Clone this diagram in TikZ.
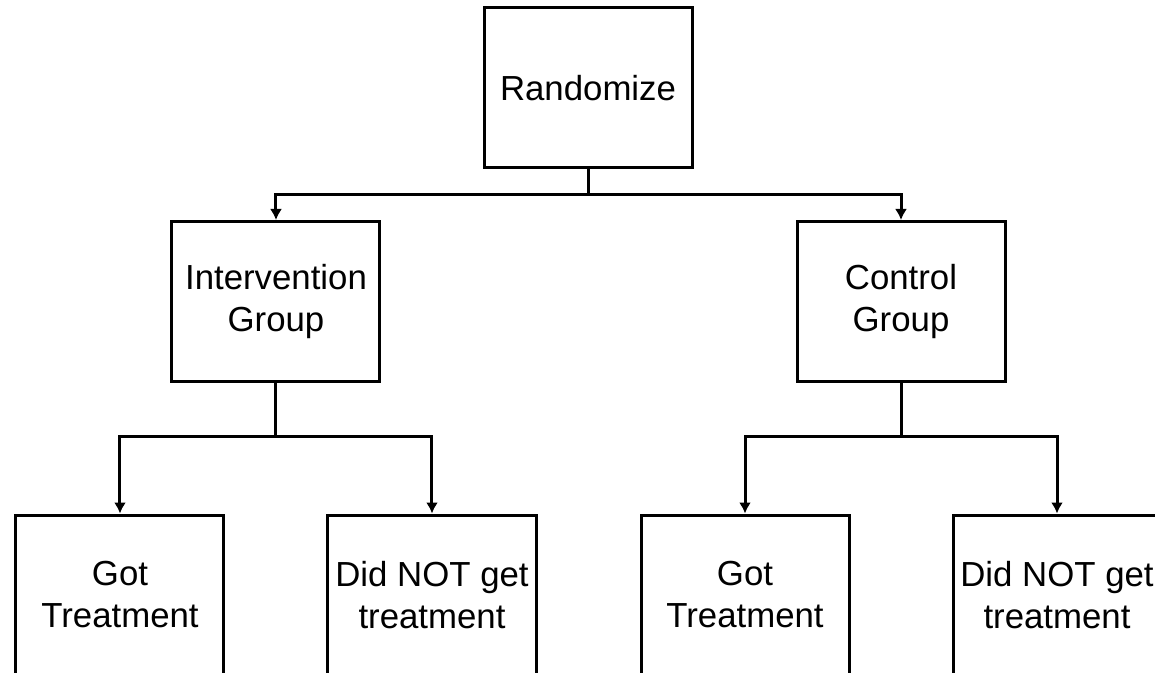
\documentclass[tikz,border=0pt]{standalone}
\usepackage{fontspec}
\setmainfont{Liberation Sans}
\usepackage{tikz}
\usetikzlibrary{arrows.meta}

\begin{document}
\begin{tikzpicture}[>={Latex[length=2.2mm,width=2.4mm]}, line width=0.06cm, node distance=4.27cm,
  box/.style={draw, line width=0.06cm, minimum width=4.16cm, minimum height=3.2cm, align=center,
    font=\fontsize{19.8}{23.9}\selectfont}]
\clip (-11.76,1.76) rectangle (11.34,-11.70);
\node[box, name=rand]{Randomize};
\node[box, name=interv, below of=rand, xshift=-6.24cm]{Intervention\\Group};
\node[box, name=control, below of=rand, xshift=6.26cm]{Control\\Group};
\node[box, name=interv_got, below of=interv, yshift=-1.6cm, xshift=-3.12cm]{Got\\Treatment};
\node[box, name=interv_not, below of=interv, yshift=-1.6cm, xshift=3.12cm]{Did NOT get\\treatment};
\node[box, name=control_got, below of=control, yshift=-1.6cm, xshift=-3.12cm]{Got\\Treatment};
\node[box, name=control_not, below of=control, yshift=-1.6cm, xshift=3.12cm]{Did NOT get\\treatment};

\draw[->](rand.south) -- ++(0,-0.5) -| (interv.north);
\draw[->](rand.south) -- ++(0,-0.5) -| (control.north);
\draw[->](interv.south) -- ++(0,-1.06) -| (interv_got.north);
\draw[->](interv.south) -- ++(0,-1.06) -| (interv_not.north);
\draw[->](control.south) -- ++(0,-1.06) -| (control_got.north);
\draw[->](control.south) -- ++(0,-1.06) -| (control_not.north);

\end{tikzpicture}
\end{document}
